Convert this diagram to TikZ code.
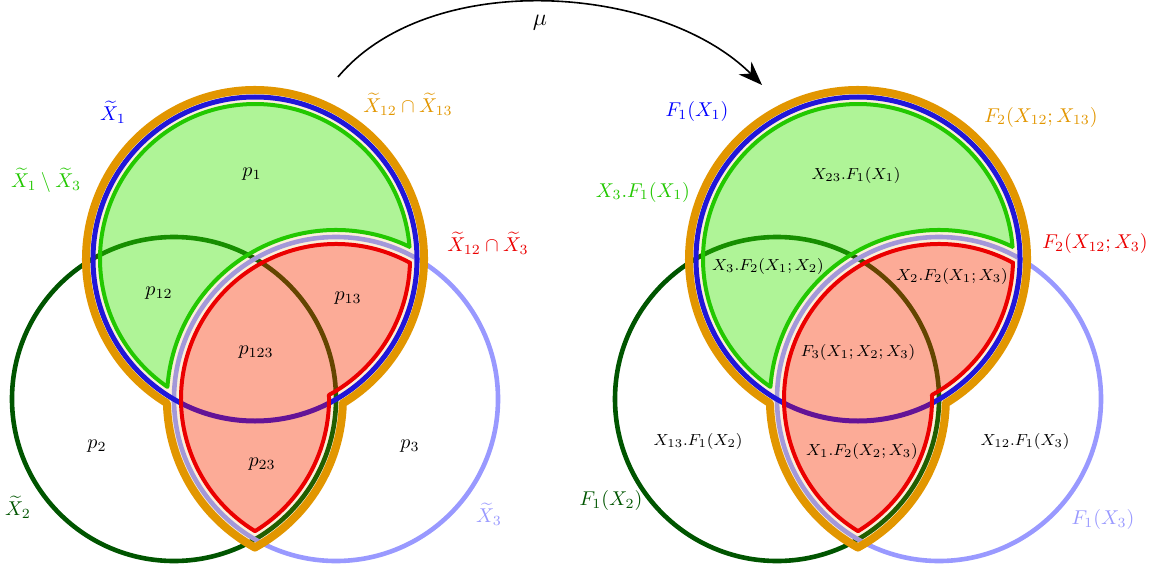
\documentclass[tikz,border=0pt]{standalone}
\usepackage{amsmath,amssymb}
\usepackage{tikz}
\usetikzlibrary{arrows.meta,positioning,calc}
\definecolor{vorange}{RGB}{226,150,0}
\definecolor{vblue}{RGB}{0,0,255}
\definecolor{vgreen}{RGB}{34,200,0}
\definecolor{vred}{RGB}{235,0,0}
\definecolor{vdgreen}{RGB}{0,85,0}
\definecolor{vlblue}{RGB}{153,153,255}

\begin{document}
\begin{tikzpicture}[x=0.5pt,y=0.5pt,
  circ/.style={line width=2.3pt},
  region/.style={line width=2pt, line join=round},
  part/.style={font=\footnotesize}]
  \useasboundingbox (0,0) rectangle (1150,569);

  \foreach \dx in {0,603} {
  \begin{scope}[shift={(\dx,0)}]
    \coordinate (c1) at (255,310);
    \coordinate (c2) at (174,170);
    \coordinate (c3) at (336,170);
    \draw[circ, vdgreen] (c2) circle[radius=162];
    \draw[circ, vlblue] (c3) circle[radius=162];
    \draw[line width=2.5pt, vblue] (c1) circle[radius=162];
    \filldraw[line width=4pt, line join=round, draw=vorange, fill=vorange, fill opacity=0.15]
      ($(c1)+(-58.59:169)$) arc[start angle=-58.59, end angle=238.59, radius=169]
      arc[start angle=181.36, end angle=241.36, radius=169]
      arc[start angle=-61.36, end angle=-1.36, radius=169] -- cycle;
    \filldraw[region, draw=vgreen, fill=green, fill opacity=0.3]
      ($(c1)+(4.4:155)$) arc[start angle=4.4, end angle=235.6, radius=155]
      arc[start angle=175.9, end angle=64.2, radius=169] -- cycle;
    \filldraw[region, draw=vred, fill=red!90!orange, fill opacity=0.3]
      ($(c3)+(61.5:155)$) arc[start angle=61.5, end angle=238.5, radius=155]
      arc[start angle=-58.5, end angle=1.5, radius=155]
      arc[start angle=-61.5, end angle=-1.4, radius=155] -- cycle;
  \end{scope}
  }

  \node[text=vblue] (lx1) at (113,457) {$\widetilde{X}_1$};
  \node[text=vorange] (lx1213) at (408,465) {$\widetilde{X}_{12}\cap\widetilde{X}_{13}$};
  \node[text=vgreen] (lx1m3) at (46,389) {$\widetilde{X}_1\setminus\widetilde{X}_3$};
  \node[text=vred] (lx123) at (488,326) {$\widetilde{X}_{12}\cap\widetilde{X}_3$};
  \node[text=vdgreen] (lx2) at (18,62) {$\widetilde{X}_2$};
  \node[text=vlblue] (lx3) at (489,55) {$\widetilde{X}_3$};

  \node (p1) at (252,395) {$p_1$};
  \node (p12) at (159,276) {$p_{12}$};
  \node (p13) at (348,271) {$p_{13}$};
  \node (p123) at (256,217) {$p_{123}$};
  \node (p2) at (97,123) {$p_2$};
  \node (p3) at (410,123) {$p_3$};
  \node (p23) at (262,105) {$p_{23}$};

  \node[text=vblue] (rx1) at (697,457) {$F_1(X_1)$};
  \node[text=vorange] (rx1213) at (1041,452) {$F_2(X_{12};X_{13})$};
  \node[text=vgreen] (rx1m3) at (643,377) {$X_3.F_1(X_1)$};
  \node[text=vred] (rx123) at (1095,326) {$F_2(X_{12};X_3)$};
  \node[text=vdgreen] (rx2) at (611,69) {$F_1(X_2)$};
  \node[text=vlblue] (rx3) at (1103,50) {$F_1(X_3)$};

  \node[part] (f1) at (856,394) {$X_{23}.F_1(X_1)$};
  \node[part] (f12) at (768,303) {$X_3.F_2(X_1;X_2)$};
  \node[part] (f13) at (952,293) {$X_2.F_2(X_1;X_3)$};
  \node[part] (f123) at (858,217) {$F_3(X_1;X_2;X_3)$};
  \node[part] (f2) at (698,128) {$X_{13}.F_1(X_2)$};
  \node[part] (f3) at (1025,128) {$X_{12}.F_1(X_3)$};
  \node[part] (f23) at (862,118) {$X_1.F_2(X_2;X_3)$};

  \coordinate (muS) at (338,492);
  \coordinate (muE) at (762,484);
  \node[font=\large] (mu) at (540,546) {$\mu$};
  \draw[line width=0.8pt, -{Stealth[length=12pt,width=9pt]}]
    (muS) to[out=50, in=135, looseness=0.86] (muE);
\end{tikzpicture}
\end{document}
